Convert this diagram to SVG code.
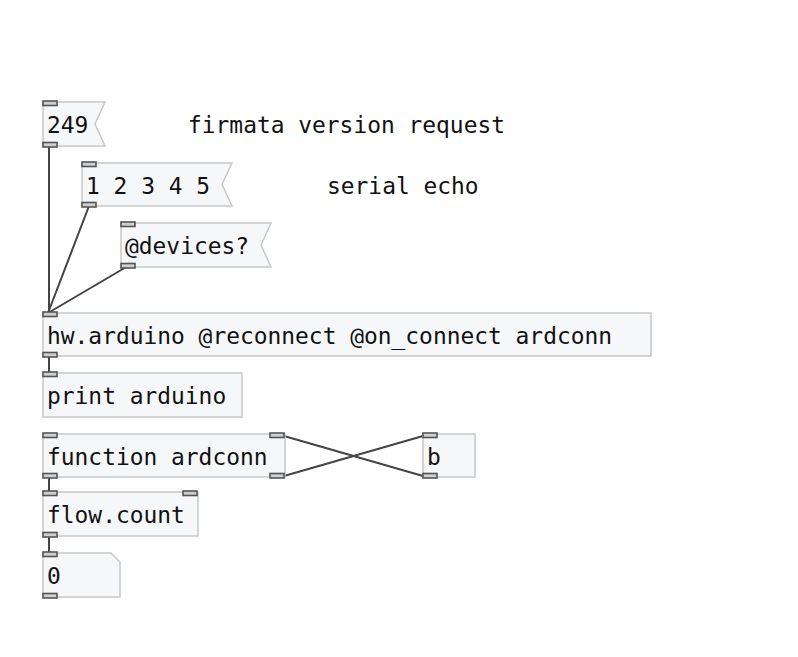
<svg xmlns="http://www.w3.org/2000/svg" width="798" height="657" viewBox="0 0 798 657">
<style>
.box{fill:#f6f7f9;stroke:#c8c8c8;stroke-width:1.5}
.port{fill:#cfcfcf;stroke:#555;stroke-width:1.6}
.t{font-family:"DejaVu Sans Mono","Liberation Mono",monospace;font-size:22.9px;fill:#111}
.c{fill:none;stroke:#444;stroke-width:2}
</style>
<rect width="798" height="657" fill="#fff"/>
<g id="connectors">
<line class="c" x1="49" y1="146" x2="49" y2="313"/>
<line class="c" x1="89" y1="206" x2="48" y2="313"/>
<line class="c" x1="128" y1="266" x2="48" y2="313"/>
<line class="c" x1="49" y1="356" x2="49" y2="373"/>
<line class="c" x1="284" y1="476" x2="423" y2="436"/>
<line class="c" x1="284" y1="436" x2="423" y2="476"/>
<line class="c" x1="49" y1="477" x2="49" y2="492"/>
<line class="c" x1="49" y1="536" x2="49" y2="553"/>
</g>
<g id="msg249">
<path class="box" d="M43,102 H105 L95,124 L105,146 H43 Z"/>
<rect class="port" x="43" y="101" width="14" height="4.5"/>
<rect class="port" x="43" y="142.5" width="14" height="4.5"/>
<text class="t" x="47" y="133">249</text>
</g>
<g id="comment1"><text class="t" x="188" y="133">firmata version request</text></g>
<g id="msg12345">
<path class="box" d="M82,163 H232 L222,184.5 L232,206 H82 Z"/>
<rect class="port" x="82" y="162" width="14" height="4.5"/>
<rect class="port" x="82" y="202.5" width="14" height="4.5"/>
<text class="t" x="86" y="194">1 2 3 4 5</text>
</g>
<g id="comment2"><text class="t" x="327" y="194">serial echo</text></g>
<g id="msgdevices">
<path class="box" d="M121,223 H271 L261,245 L271,267 H121 Z"/>
<rect class="port" x="121" y="222" width="14" height="4.5"/>
<rect class="port" x="121" y="263.5" width="14" height="4.5"/>
<text class="t" x="125" y="254">@devices?</text>
</g>
<g id="hwarduino">
<rect class="box" x="43" y="313" width="608" height="43"/>
<rect class="port" x="43" y="312" width="14" height="4.5"/>
<rect class="port" x="43" y="352.5" width="14" height="4.5"/>
<text class="t" x="47" y="344">hw.arduino @reconnect @on_connect ardconn</text>
</g>
<g id="print">
<rect class="box" x="43" y="373" width="199" height="44"/>
<rect class="port" x="43" y="372" width="14" height="4.5"/>
<text class="t" x="47" y="404">print arduino</text>
</g>
<g id="function">
<rect class="box" x="43" y="434" width="242" height="43"/>
<rect class="port" x="43" y="433" width="14" height="4.5"/>
<rect class="port" x="270" y="433" width="14" height="4.5"/>
<rect class="port" x="43" y="473.5" width="14" height="4.5"/>
<rect class="port" x="270" y="473.5" width="14" height="4.5"/>
<text class="t" x="47" y="465">function ardconn</text>
</g>
<g id="bang">
<rect class="box" x="423" y="434" width="52" height="43"/>
<rect class="port" x="423" y="433" width="14" height="4.5"/>
<rect class="port" x="423" y="473.5" width="14" height="4.5"/>
<text class="t" x="427" y="465">b</text>
</g>
<g id="flowcount">
<rect class="box" x="43" y="492" width="155" height="44"/>
<rect class="port" x="43" y="491" width="14" height="4.5"/>
<rect class="port" x="183" y="491" width="14" height="4.5"/>
<rect class="port" x="43" y="532.5" width="14" height="4.5"/>
<text class="t" x="47" y="523">flow.count</text>
</g>
<g id="number">
<path class="box" d="M43,553 H111 L120,562 V597 H43 Z"/>
<rect class="port" x="43" y="552" width="14" height="4.5"/>
<rect class="port" x="43" y="593.5" width="14" height="4.5"/>
<text class="t" x="47" y="584">0</text>
</g>
</svg>
